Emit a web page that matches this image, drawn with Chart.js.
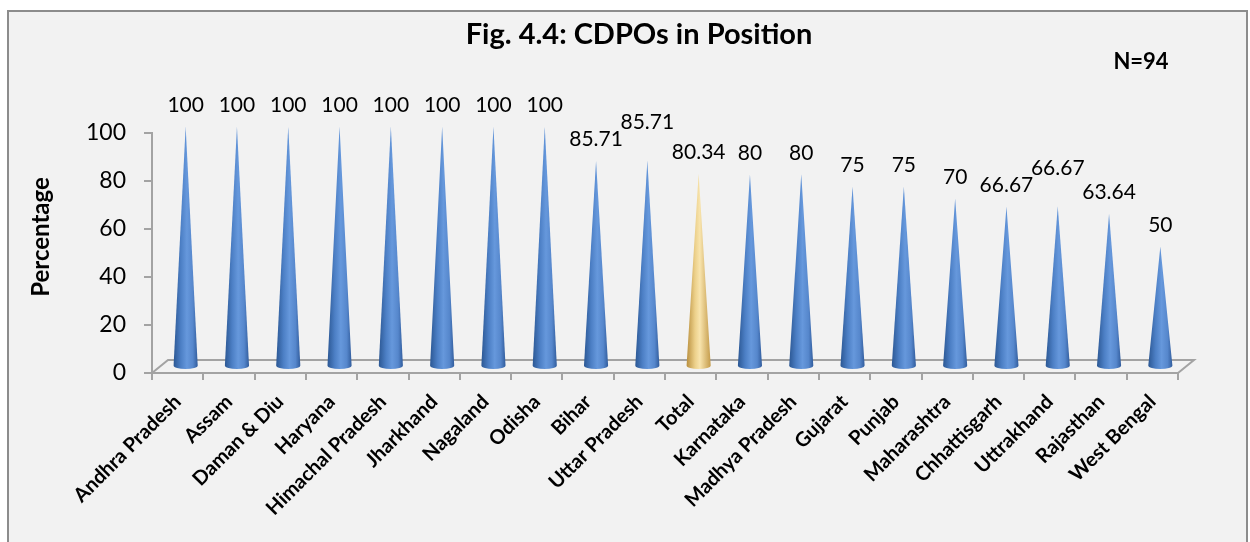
<!DOCTYPE html>
<html>
<head>
<meta charset="utf-8">
<script src="https://cdn.jsdelivr.net/npm/chart.js@4.4.1/dist/chart.umd.min.js"></script>
<style>
  html, body { margin: 0; padding: 0; background: #ffffff; }
  #wrap { width: 1250px; height: 542px; position: relative; }
</style>
</head>
<body>
<div id="wrap"><canvas id="c" width="1250" height="542"></canvas></div>
<script>
// States / UTs, sorted by share of CDPO posts filled
const categories = ['Andhra Pradesh', 'Assam', 'Daman & Diu', 'Haryana', 'Himachal Pradesh',
  'Jharkhand', 'Nagaland', 'Odisha', 'Bihar', 'Uttar Pradesh', 'Total', 'Karnataka',
  'Madhya Pradesh', 'Gujarat', 'Punjab', 'Maharashtra', 'Chhattisgarh', 'Uttrakhand',
  'Rajasthan', 'West Bengal'];
// CDPOs in position (%)
const percentages = [100, 100, 100, 100, 100, 100, 100, 100, 85.71, 85.71, 80.34, 80, 80,
  75, 75, 70, 66.67, 66.67, 63.64, 50];
const yTicks = [0, 20, 40, 60, 80, 100];
const titleText = 'Fig. 4.4: CDPOs in Position';
const sampleNote = 'N=94';
const yAxisLabel = 'Percentage';

const FONT = 'Lato, "Open Sans", sans-serif';
const AXIS_GREY = '#a3a3a3';
const DEPTH_X = 16, DEPTH_Y = 13;   // 3-D floor depth

// Frame, panel background, heading, sample size and axis caption
const framePlugin = {
  id: 'frame',
  beforeDraw(chart) {
    const ctx = chart.ctx;
    ctx.save();
    ctx.fillStyle = '#ffffff';
    ctx.fillRect(0, 0, chart.width, chart.height);
    ctx.fillStyle = '#f2f2f2';
    ctx.fillRect(8, 11, 1239, 560);
    ctx.strokeStyle = '#8c8c8c';
    ctx.lineWidth = 2;
    ctx.strokeRect(8, 11, 1239, 560);
    ctx.restore();
  },
  afterDraw(chart) {
    const ctx = chart.ctx;
    ctx.save();
    ctx.fillStyle = '#000';
    ctx.textAlign = 'center';
    ctx.textBaseline = 'middle';
    ctx.font = 'bold 29px ' + FONT;
    ctx.fillText(titleText, 639, 35);
    ctx.font = 'bold 22px ' + FONT;
    ctx.fillText(sampleNote, 1141, 62);
    ctx.translate(41, 237);
    ctx.rotate(-Math.PI / 2);
    ctx.font = 'bold 24px ' + FONT;
    ctx.fillText(yAxisLabel, 0, 0);
    ctx.restore();
  }
};

// Floor of the 3-D plot and cone-shaped columns
function coneGradient(ctx, cx, hw, isTotal) {
  const g = ctx.createLinearGradient(cx - hw, 0, cx + hw, 0);
  if (isTotal) {
    g.addColorStop(0, '#b98f3e');
    g.addColorStop(0.35, '#ecd08a');
    g.addColorStop(0.55, '#f8e4ad');
    g.addColorStop(1, '#c49b4a');
  } else {
    g.addColorStop(0, '#2b5793');
    g.addColorStop(0.3, '#4c7fc5');
    g.addColorStop(0.55, '#6698dc');
    g.addColorStop(0.8, '#5687cc');
    g.addColorStop(1, '#315c9c');
  }
  return g;
}

const conePlugin = {
  id: 'cones',
  beforeDatasetsDraw(chart) {
    const { ctx, chartArea: a } = chart;
    ctx.save();
    ctx.strokeStyle = AXIS_GREY;
    ctx.lineWidth = 2;
    ctx.beginPath();
    ctx.moveTo(a.left, a.bottom);
    ctx.lineTo(a.left + DEPTH_X, a.bottom - DEPTH_Y);
    ctx.lineTo(a.right + DEPTH_X, a.bottom - DEPTH_Y);
    ctx.lineTo(a.right, a.bottom);
    ctx.stroke();
    ctx.restore();
  },
  beforeDatasetDraw(chart, args) {
    const ctx = chart.ctx;
    const meta = args.meta;
    ctx.save();
    meta.data.forEach((bar, i) => {
      const cx = bar.x + DEPTH_X / 2;
      const tip = bar.y - DEPTH_Y / 2;
      const base = bar.base - DEPTH_Y / 2;
      const hw = bar.width / 2;
      const ry = hw * 0.3;
      ctx.beginPath();
      ctx.moveTo(cx - hw, base);
      ctx.lineTo(cx, tip);
      ctx.lineTo(cx + hw, base);
      ctx.ellipse(cx, base, hw, ry, 0, 0, Math.PI, false);
      ctx.closePath();
      ctx.fillStyle = coneGradient(ctx, cx, hw, categories[i] === 'Total');
      ctx.fill();
    });
    ctx.restore();
    return false;
  },
  afterDatasetsDraw(chart) {
    const ctx = chart.ctx;
    const meta = chart.getDatasetMeta(0);
    ctx.save();
    ctx.font = '21px ' + FONT;
    ctx.fillStyle = '#000';
    ctx.textAlign = 'center';
    ctx.textBaseline = 'middle';
    let prev = null;
    meta.data.forEach((bar, i) => {
      const txt = String(percentages[i]);
      const w = ctx.measureText(txt).width;
      const x = bar.x + DEPTH_X / 2;
      let y = bar.y - 28;
      // lift a value that would run into its left neighbour
      if (prev && x - w / 2 < prev.right + 4 && Math.abs(prev.y - y) < 16) {
        y -= 17;
      }
      ctx.fillText(txt, x, y);
      prev = { right: x + w / 2, y };
    });
    ctx.restore();
  }
};

new Chart(document.getElementById('c'), {
  type: 'bar',
  data: {
    labels: categories,
    datasets: [{
      label: 'CDPOs in Position (%)',
      data: percentages,
      backgroundColor: '#4f81bd',
      categoryPercentage: 1,
      barPercentage: 0.47
    }]
  },
  options: {
    responsive: false,
    animation: false,
    devicePixelRatio: 1,
    layout: { padding: { left: 0, right: 72, top: 133, bottom: 0 } },
    plugins: {
      legend: { display: false },
      tooltip: { enabled: false },
      title: { display: false }
    },
    scales: {
      x: {
        offset: true,
        grid: { drawOnChartArea: false, drawTicks: true, tickLength: 7, color: AXIS_GREY, lineWidth: 2 },
        border: { color: AXIS_GREY, width: 2 },
        ticks: {
          color: '#000',
          font: { family: FONT, size: 20, weight: 'bold' },
          minRotation: 45,
          maxRotation: 45,
          autoSkip: false,
          padding: 10
        },
        afterFit(scale) { scale.height = 169; }
      },
      y: {
        min: 0,
        max: 100,
        afterBuildTicks(scale) { scale.ticks = yTicks.map(v => ({ value: v })); },
        grid: { drawOnChartArea: false, drawTicks: true, tickLength: 8, color: AXIS_GREY, lineWidth: 2 },
        border: { color: AXIS_GREY, width: 2 },
        ticks: {
          color: '#000',
          font: { family: FONT, size: 23 },
          padding: 18
        },
        afterFit(scale) { scale.width = 152; }
      }
    }
  },
  plugins: [framePlugin, conePlugin]
});
</script>
</body>
</html>
